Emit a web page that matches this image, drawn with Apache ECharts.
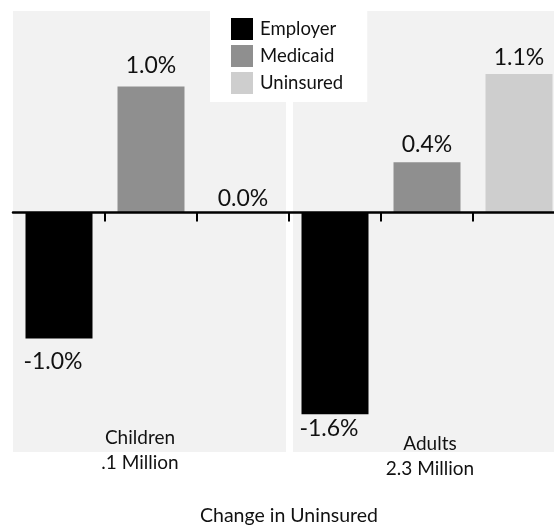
<!DOCTYPE html>
<html>
<head>
<meta charset="utf-8">
<title>Change in Uninsured</title>
<script src="https://cdn.jsdelivr.net/npm/echarts@6/dist/echarts.min.js"></script>
<style>
  html, body { margin: 0; padding: 0; background: #ffffff; }
  #chart { width: 554px; height: 525px; }
</style>
</head>
<body>
<div id="chart"></div>
<script>
// Population groups and their sizes
const groups = ['Children', 'Adults'];
const groupSizes = ['.1 Million', '2.3 Million'];

// Coverage types shown for every group
const coverageTypes = ['Employer', 'Medicaid', 'Uninsured'];

// Percentage-point change for each group, one array per coverage type
const employer = [-1.0, -1.6];
const medicaid = [1.0, 0.4];
const uninsured = [0.0, 1.1];

const seriesValues = [employer, medicaid, uninsured];
const colors = ['#000000', '#8f8f8f', '#cecece'];
const FONT = 'Lato, "Open Sans", sans-serif';

// One slot per (group, coverage type): Children-Employer, Children-Medicaid, ...
const slots = [];
groups.forEach(g => coverageTypes.forEach(t => slots.push(g + ' ' + t)));

// Extra label spacing per bar (group index -> px) for each coverage type
const labelGap = [[11, 3], [10, 6], [3, 5]];

function buildSeries(typeIdx) {
  const values = seriesValues[typeIdx];
  const data = slots.map(() => '-');
  groups.forEach((g, gi) => {
    data[gi * coverageTypes.length + typeIdx] = {
      value: values[gi],
      label: { distance: labelGap[typeIdx][gi] }
    };
  });
  const negative = typeIdx === 0;
  return {
    name: coverageTypes[typeIdx],
    type: 'bar',
    xAxisIndex: 0,
    yAxisIndex: 0,
    barWidth: 67,
    barGap: '-100%',
    z: 3,
    itemStyle: { color: colors[typeIdx] },
    label: {
      show: true,
      position: negative ? 'bottom' : 'top',
      offset: negative ? [-6, 0] : [0, 0],
      formatter: p => p.value.toFixed(1) + '%',
      fontFamily: FONT,
      fontSize: 23,
      color: '#111111'
    },
    data: data
  };
}

const groupAxisData = groups.map((g, i) => ({
  value: g + '\n' + groupSizes[i],
  textStyle: { padding: i === 0 ? [0, 22, 0, 0] : [5.5, 0, 0, 6] }
}));

const chart = echarts.init(document.getElementById('chart'), null, { renderer: 'canvas' });

chart.setOption({
  animation: false,
  backgroundColor: '#ffffff',
  grid: {
    left: 13, top: 11, width: 552, height: 441,
    containLabel: false,
    outerBoundsMode: 'none'
  },
  legend: {
    data: coverageTypes,
    orient: 'vertical',
    left: 210,
    top: 0,
    padding: [18, 24, 8, 21],
    itemWidth: 22,
    itemHeight: 22,
    itemGap: 5,
    icon: 'rect',
    backgroundColor: '#ffffff',
    textStyle: { fontFamily: FONT, fontSize: 18.5, color: '#111111', padding: [0, 0, 0, 2] },
    selectedMode: false
  },
  xAxis: [
    {
      // slot axis: zero line with ticks at slot boundaries
      type: 'category',
      data: slots,
      boundaryGap: true,
      axisLine: { show: true, onZero: true, lineStyle: { color: '#000000', width: 2.5 } },
      axisTick: {
        show: true,
        length: 9,
        interval: idx => idx !== 0,
        lineStyle: { color: '#000000', width: 2 }
      },
      axisLabel: { show: false },
      splitLine: { show: false },
      z: 5
    },
    {
      // group labels along the bottom, straddling the panel edge
      type: 'category',
      data: groupAxisData,
      position: 'bottom',
      z: 10,
      axisLine: { show: false, onZero: false },
      axisTick: { show: false },
      axisLabel: {
        show: true,
        interval: 0,
        margin: -26.5,
        lineHeight: 25,
        fontFamily: FONT,
        fontSize: 19,
        color: '#111111'
      },
      name: 'Change in Uninsured',
      nameLocation: 'middle',
      nameGap: 54,
      nameTextStyle: { fontFamily: FONT, fontSize: 19.5, color: '#111111' }
    },
    {
      // helper axis used for the group background panels
      type: 'value',
      min: 0,
      max: 6,
      show: false
    }
  ],
  yAxis: {
    type: 'value',
    min: -1.9,
    max: 1.6,
    show: false,
    splitLine: { show: false }
  },
  series: [
    {
      name: 'panels',
      type: 'line',
      xAxisIndex: 2,
      yAxisIndex: 0,
      data: [],
      silent: true,
      z: 0,
      markArea: {
        silent: true,
        itemStyle: { color: '#f2f2f2' },
        data: [
          [{ xAxis: 0 }, { xAxis: 2.967 }],
          [{ xAxis: 3.043 }, { xAxis: 6 }]
        ]
      }
    },
    buildSeries(0),
    buildSeries(1),
    buildSeries(2)
  ]
});
</script>
</body>
</html>
